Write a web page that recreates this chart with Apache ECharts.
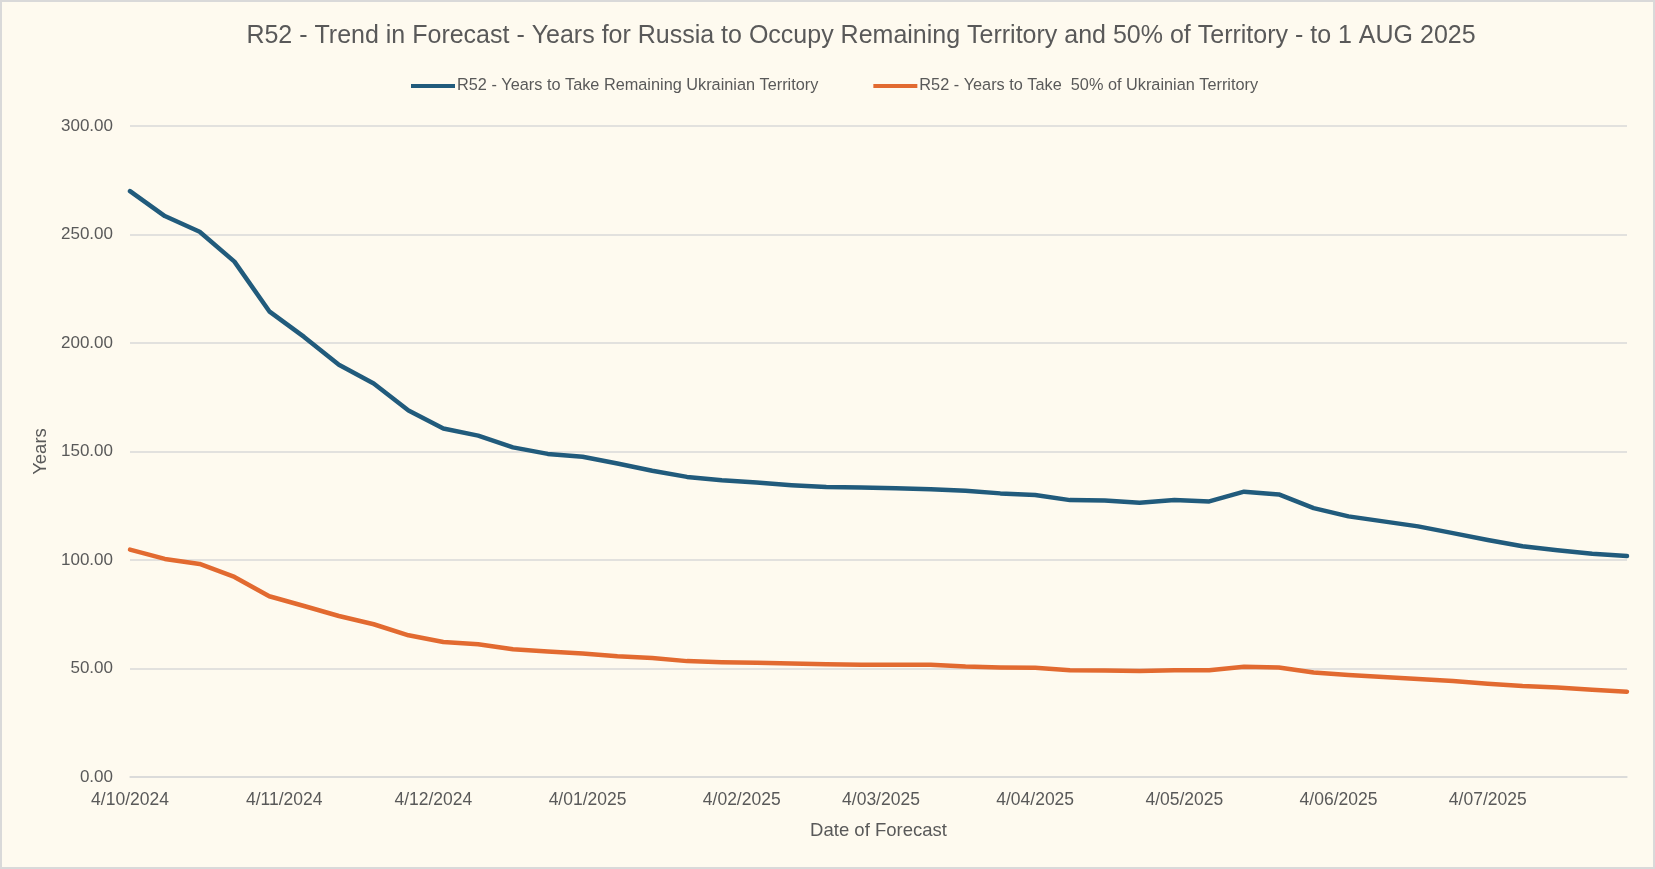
<!DOCTYPE html>
<html>
<head>
<meta charset="utf-8">
<script src="https://cdn.jsdelivr.net/npm/echarts@6/dist/echarts.min.js"></script>
<style>
html,body{margin:0;padding:0;background:#FEFAEF;}
#chart{width:1655px;height:869px;box-sizing:border-box;border:2px solid #D9D9D9;}
</style>
</head>
<body>
<div id="chart"></div>
<script>
const titleText = 'R52 - Trend in Forecast - Years for Russia to Occupy Remaining Territory and 50% of Territory - to 1 AUG 2025';
const seriesNames = ['R52 - Years to Take Remaining Ukrainian Territory', 'R52 - Years to Take  50% of Ukrainian Territory'];
const dates = [
  '2024-10-04','2024-10-11','2024-10-18','2024-10-25',
  '2024-11-01','2024-11-08','2024-11-15','2024-11-22','2024-11-29',
  '2024-12-06','2024-12-13','2024-12-20','2024-12-27',
  '2025-01-03','2025-01-10','2025-01-17','2025-01-24','2025-01-31',
  '2025-02-07','2025-02-14','2025-02-21','2025-02-28',
  '2025-03-07','2025-03-14','2025-03-21','2025-03-28',
  '2025-04-04','2025-04-11','2025-04-18','2025-04-25',
  '2025-05-02','2025-05-09','2025-05-16','2025-05-23','2025-05-30',
  '2025-06-06','2025-06-13','2025-06-20','2025-06-27',
  '2025-07-04','2025-07-11','2025-07-18','2025-07-25',
  '2025-08-01'
];
const remainingYears = [270.0, 258.5, 251.3, 237.5, 214.6, 202.8, 190.0, 181.3, 168.9, 160.6, 157.3, 151.9, 148.9, 147.6, 144.5, 141.1, 138.3, 136.8, 135.7, 134.5, 133.6, 133.4, 133.1, 132.6, 131.9, 130.7, 130.0, 127.6, 127.4, 126.4, 127.6, 127.0, 131.5, 130.2, 123.9, 120.1, 117.8, 115.5, 112.4, 109.2, 106.3, 104.5, 102.9, 101.8];
const halfYears = [104.8, 100.5, 98.2, 92.2, 83.3, 78.8, 74.2, 70.4, 65.3, 62.2, 61.2, 58.9, 57.8, 56.9, 55.6, 54.8, 53.4, 52.9, 52.6, 52.3, 52.0, 51.7, 51.7, 51.7, 50.9, 50.5, 50.3, 49.2, 49.1, 48.8, 49.2, 49.2, 50.8, 50.5, 48.2, 47.0, 46.1, 45.2, 44.2, 43.0, 41.9, 41.2, 40.2, 39.3];
const xTickDates = ['2024-10-04','2024-11-04','2024-12-04','2025-01-04','2025-02-04','2025-03-04','2025-04-04','2025-05-04','2025-06-04','2025-07-04'];
const xAxisName = 'Date of Forecast';
const yAxisName = 'Years';

function toTs(s){ const p = s.split('-').map(Number); return new Date(p[0], p[1]-1, p[2]).getTime(); }
function fmtDate(v){ const d = new Date(v); const m = d.getMonth()+1; return d.getDate() + '/' + (m<10?'0':'') + m + '/' + d.getFullYear(); }

const FONT = 'Liberation Sans';
const TXT = '#595959';
const chart = echarts.init(document.getElementById('chart'));
chart.setOption({
  backgroundColor: '#FEFAEF',
  animation: false,
  title: {
    text: titleText,
    left: 854, top: 17, textAlign: 'center',
    textStyle: { fontFamily: FONT, fontSize: 25, fontWeight: 'normal', color: TXT }
  },
  legend: {
    top: 71, left: 404,
    itemWidth: 44, itemHeight: 14, itemGap: 55,
    icon: 'path://M0,5 L44,5 L44,9 L0,9 Z',
    textStyle: { fontFamily: FONT, fontSize: 16.3, color: TXT, padding: [0,0,0,-3] },
    data: seriesNames
  },
  grid: { left: 128, right: 26, top: 124, bottom: 90, containLabel: false },
  xAxis: {
    type: 'value',
    min: toTs(dates[0]), max: toTs(dates[dates.length-1]),
    name: xAxisName, nameLocation: 'middle', nameGap: 44,
    nameTextStyle: { fontFamily: FONT, fontSize: 18.5, color: TXT },
    axisLine: { show: true, lineStyle: { color: '#D9D9D9', width: 1.5 } },
    axisTick: { show: false },
    splitLine: { show: false },
    axisLabel: {
      customValues: xTickDates.map(toTs),
      formatter: fmtDate,
      fontFamily: FONT, fontSize: 17.5, color: TXT, margin: 14,
      showMinLabel: true, showMaxLabel: true
    }
  },
  yAxis: {
    type: 'value', min: 0, max: 300, interval: 50,
    name: yAxisName, nameLocation: 'middle', nameGap: 78, nameRotate: 90,
    nameTextStyle: { fontFamily: FONT, fontSize: 18.5, color: TXT },
    axisLine: { show: false }, axisTick: { show: false },
    splitLine: { lineStyle: { color: '#D9D9D9', width: 1.5 } },
    axisLabel: { formatter: v => v.toFixed(2), fontFamily: FONT, fontSize: 17, color: TXT, margin: 17 }
  },
  series: [
    {
      name: seriesNames[0], type: 'line', symbol: 'none', showSymbol: false,
      data: dates.map((d,i) => [toTs(d), remainingYears[i]]),
      lineStyle: { color: '#215B7C', width: 4.5, cap: 'round', join: 'round' },
      itemStyle: { color: '#215B7C' }
    },
    {
      name: seriesNames[1], type: 'line', symbol: 'none', showSymbol: false,
      data: dates.map((d,i) => [toTs(d), halfYears[i]]),
      lineStyle: { color: '#E26A30', width: 4.5, cap: 'round', join: 'round' },
      itemStyle: { color: '#E26A30' }
    }
  ]
});
</script>
</body>
</html>
